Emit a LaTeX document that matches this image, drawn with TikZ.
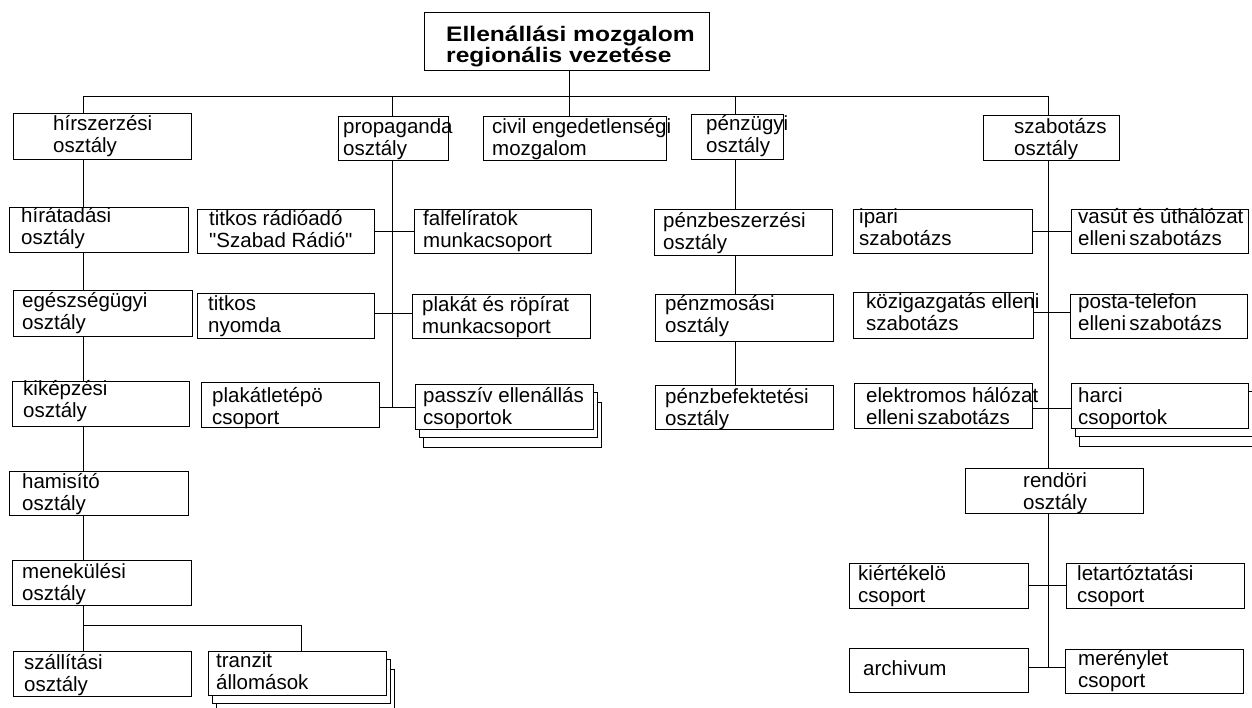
\documentclass[tikz,border=0pt]{standalone}
\usepackage{fontspec}
\setmainfont{Liberation Sans}[Ligatures=TeXOff]
\newfontfamily\titlefont{Liberation Sans}[FakeStretch=1.17]
\pgfdeclarelayer{bg}
\pgfsetlayers{bg,main}
\tikzset{
  bx/.style={draw=black, line width=0.8pt, fill=white, inner sep=0pt},
  tx/.style={anchor=north west, inner sep=0pt, align=left, yshift=20pt,
             font=\fontsize{20.5}{22}\selectfont},
  ttl/.style={tx, font=\titlefont\bfseries\fontsize{21}{19}\selectfont},
  ln/.style={draw=black, line width=0.8pt},
}
\newcommand\obox[8]{%
  \node[bx, minimum width={#4-#2}, minimum height={#5-#3}] (#1) at ({(#2+#4)/2},{(#3+#5)/2}) {};
  \node[tx] (#1-t) at (#6,#7) {\rule{0pt}{20pt}#8};
}
\newcommand\stackbox[8]{%
  \node[bx, minimum width={#4-#2}, minimum height={#5-#3}] (#1-s2) at ({(#2+#4)/2+8},{(#3+#5)/2+18}) {};
  \node[bx, minimum width={#4-#2}, minimum height={#5-#3}] (#1-s1) at ({(#2+#4)/2+4},{(#3+#5)/2+8}) {};
  \obox{#1}{#2}{#3}{#4}{#5}{#6}{#7}{#8}
}
\begin{document}
\begin{tikzpicture}[x=1pt,y=-1pt]
\useasboundingbox (0,0) rectangle (1252,708);
% title
\node[bx, minimum width=285, minimum height=58] (title) at (566.5,41) {};
\node[ttl] (title-t) at (446,41) {\rule{0pt}{20pt}Ellenállási mozgalom\\regionális vezetése};
% level 1
\obox{hir}{13}{113}{191}{159}{53}{130}{hírszerzési\\osztály}
\obox{prop}{338}{116}{448}{160}{343}{133}{propaganda\\osztály}
\obox{civil}{483}{116}{666}{160}{492}{133}{civil engedetlenségi\\mozgalom}
\obox{penz}{691}{114}{783}{159}{706}{130}{pénzügyi\\osztály}
\obox{szab}{983}{115}{1119}{160}{1014}{133}{szabotázs\\osztály}
% left column
\obox{hirat}{9}{207}{188}{252}{21}{222}{hírátadási\\osztály}
\obox{egesz}{13}{290}{192}{336}{22}{307}{egészségügyi\\osztály}
\obox{kikep}{12}{381}{189}{426}{23}{395}{kiképzési\\osztály}
\obox{hamis}{9}{471}{188}{515}{22}{488}{hamisító\\osztály}
\obox{menek}{12}{560}{191}{605}{22}{578}{menekülési\\osztály}
\obox{szall}{13}{651}{191}{696}{24}{669}{szállítási\\osztály}
\stackbox{tranz}{208}{651}{386}{695}{216}{667}{tranzit\\állomások}
% propaganda
\obox{radio}{197}{209}{374}{253}{209}{225}{titkos rádióadó\\"Szabad Rádió"}
\obox{fal}{414}{209}{591}{253}{423}{225}{falfelíratok\\munkacsoport}
\obox{nyomda}{197}{293}{374}{338}{208}{310}{titkos\\nyomda}
\obox{plakat}{412}{294}{590}{338}{422}{311}{plakát és röpírat\\munkacsoport}
\obox{letepo}{201}{382}{379}{427}{212}{402}{plakátletépö\\csoport}
\stackbox{passz}{415}{384}{593}{429}{423}{402}{passzív ellenállás\\csoportok}
% penz
\obox{beszerz}{654}{209}{832}{255}{663}{227}{pénzbeszerzési\\osztály}
\obox{mos}{655}{294}{833}{341}{665}{310}{pénzmosási\\osztály}
\obox{befekt}{655}{385}{833}{429}{665}{403}{pénzbefektetési\\osztály}
% szabotazs
\obox{ipari}{853}{209}{1032}{253}{859}{223}{ipari\\szabotázs}
\obox{vasut}{1071}{209}{1248}{253}{1078}{223}{vasút és úthálózat\\elleni\,szabotázs}
\obox{kozig}{853}{292}{1033}{338}{866}{308}{közigazgatás elleni\\szabotázs}
\obox{posta}{1070}{294}{1247}{338}{1078}{308}{posta-telefon\\elleni\,szabotázs}
\obox{elektr}{854}{383}{1032}{428}{866}{402}{elektromos hálózat\\elleni\,szabotázs}
\stackbox{harci}{1071}{383}{1248}{428}{1078}{402}{harci\\csoportok}
\obox{rend}{965}{468}{1143}{513}{1023}{487}{rendöri\\osztály}
\obox{kiert}{849}{563}{1028}{608}{858}{580}{kiértékelö\\csoport}
\obox{letart}{1066}{563}{1244}{608}{1077}{580}{letartóztatási\\csoport}
\obox{archiv}{849}{648}{1028}{692}{863}{675}{archivum}
\obox{meren}{1065}{649}{1243}{693}{1078}{665}{merénylet\\csoport}
% junction coordinates
\coordinate (bus) at (0,96);
\coordinate (cL) at (83,0);
\coordinate (cP) at (392,0);
\coordinate (cT) at (569,0);
\coordinate (cF) at (735.5,0);
\coordinate (cS) at (1048,0);
\coordinate (cM) at (301,0);
\coordinate (mj) at (0,625);
\coordinate (r2) at (0,313);
\coordinate (r3) at (0,407);
\coordinate (s2) at (0,312);
\coordinate (s3) at (0,408);
\coordinate (q2) at (0,667);
\begin{pgfonlayer}{bg}
\draw[ln] (hir.north -| cL) -- (cL |- bus) -- (cS |- bus) -- (szab.north -| cS);
\draw[ln] (prop.north -| cP) -- (cP |- bus);
\draw[ln] (penz.north -| cF) -- (cF |- bus);
\draw[ln] (title.south -| cT) -- (civil.north -| cT);
% left
\draw[ln] (hir.south -| cL) -- (szall.north -| cL);
\draw[ln] (cL |- mj) -- (cM |- mj) -- (tranz.north -| cM);
% propaganda
\draw[ln] (prop.south -| cP) -- (cP |- r3);
\draw[ln] (radio.east) -- (fal.west);
\draw[ln] (nyomda.east |- r2) -- (plakat.west |- r2);
\draw[ln] (letepo.east |- r3) -- (passz.west |- r3);
% penz
\draw[ln] (penz.south -| cF) -- (befekt.north -| cF);
% szabotazs
\draw[ln] (szab.south -| cS) -- (rend.north -| cS);
\draw[ln] (ipari.east) -- (vasut.west);
\draw[ln] (kozig.east |- s2) -- (posta.west |- s2);
\draw[ln] (elektr.east |- s3) -- (harci.west |- s3);
\draw[ln] (rend.south -| cS) -- (cS |- q2);
\draw[ln] (kiert.east) -- (letart.west);
\draw[ln] (archiv.east |- q2) -- (meren.west |- q2);
\end{pgfonlayer}
\end{tikzpicture}
\end{document}
